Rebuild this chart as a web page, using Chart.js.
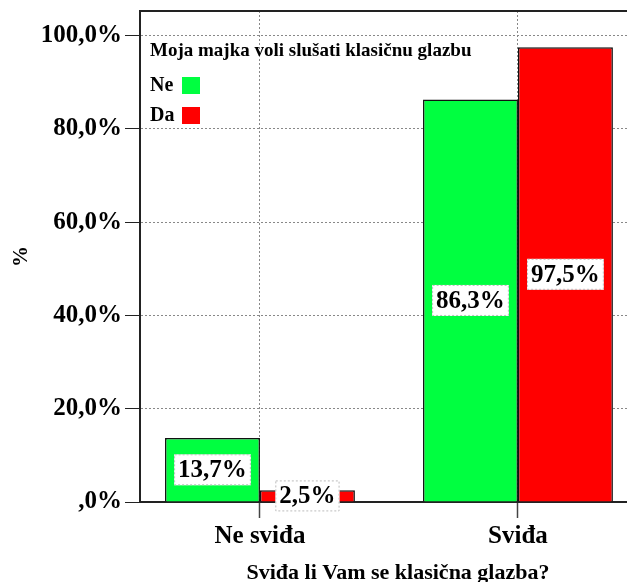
<!DOCTYPE html>
<html>
<head>
<meta charset="utf-8">
<script src="https://cdn.jsdelivr.net/npm/chart.js@4"></script>
<style>
  html, body { margin: 0; padding: 0; background: #fff; overflow: hidden; }
  #wrap { width: 670px; height: 587px; }
</style>
</head>
<body>
<div id="wrap"><canvas id="c" width="670" height="587"></canvas></div>
<script>
const categories = ['Ne sviđa', 'Sviđa'];
const seriesNames = ['Ne', 'Da'];
const valuesNe = [13.7, 86.3];
const valuesDa = [2.5, 97.5];
const yTicks = [0, 20, 40, 60, 80, 100];
const legendTitle = 'Moja majka voli slušati klasičnu glazbu';
const xTitle = 'Sviđa li Vam se klasična glazba?';
const yTitle = '%';

const FONT = '"Liberation Serif", "DejaVu Serif", serif';

function fmt(v) {
  if (v === 0) return ',0%';
  return v.toFixed(1).replace('.', ',') + '%';
}

// white boxes with the percentages, centred on each bar
const labelPlugin = {
  id: 'barLabels',
  afterDatasetsDraw(chart) {
    const ctx = chart.ctx;
    ctx.save();
    ctx.font = 'bold 25px ' + FONT;
    ctx.textAlign = 'center';
    ctx.textBaseline = 'middle';
    chart.data.datasets.forEach((ds, i) => {
      chart.getDatasetMeta(i).data.forEach((bar, j) => {
        const txt = fmt(ds.data[j].y);
        const cy = (bar.y + bar.base) / 2;
        const w = ctx.measureText(txt).width + 8;
        const h = 31;
        ctx.fillStyle = '#fff';
        ctx.fillRect(bar.x - w / 2, cy - h / 2, w, h);
        ctx.setLineDash([2, 2]);
        ctx.strokeStyle = '#bbb';
        ctx.lineWidth = 1;
        ctx.strokeRect(bar.x - w / 2 + 0.5, cy - h / 2 + 0.5, w - 1, h - 1);
        ctx.setLineDash([]);
        ctx.fillStyle = '#000';
        ctx.fillText(txt, bar.x, cy + 1);
      });
    });
    ctx.restore();
  }
};

// frame round the plot + legend inside it
const framePlugin = {
  id: 'frame',
  afterDraw(chart) {
    const ctx = chart.ctx;
    const a = chart.chartArea;
    ctx.save();
    ctx.strokeStyle = '#222';
    ctx.lineWidth = 2;
    ctx.beginPath();
    ctx.moveTo(a.left, a.top);
    ctx.lineTo(a.right, a.top);
    ctx.lineTo(a.right, a.bottom);
    ctx.stroke();

    ctx.fillStyle = '#000';
    ctx.textAlign = 'left';
    ctx.textBaseline = 'middle';
    ctx.font = 'bold 19px ' + FONT;
    ctx.fillText(legendTitle, a.left + 10, a.top + 40);
    ctx.font = 'bold 20px ' + FONT;
    chart.data.datasets.forEach((ds, i) => {
      const y = a.top + 75 + i * 30;
      ctx.fillStyle = '#000';
      ctx.fillText(ds.label, a.left + 10, y);
      ctx.fillStyle = ds.backgroundColor;
      ctx.fillRect(a.left + 42, y - 9, 18, 17);
    });
    ctx.restore();
  }
};

new Chart(document.getElementById('c'), {
  type: 'bar',
  data: {
    labels: categories,
    datasets: [
      { label: seriesNames[0], data: valuesNe.map((v, i) => ({ x: i, y: v })), backgroundColor: '#00ff40', borderColor: '#111', borderWidth: 1.5 },
      { label: seriesNames[1], data: valuesDa.map((v, i) => ({ x: i, y: v })), backgroundColor: '#ff0000', borderColor: '#111', borderWidth: 1.5 }
    ]
  },
  options: {
    responsive: false,
    animation: false,
    categoryPercentage: 0.736,
    barPercentage: 1.0,
    layout: { padding: { top: 11, right: 14, left: 0, bottom: 0 } },
    plugins: {
      legend: { display: false },
      tooltip: { enabled: false }
    },
    scales: {
      x: {
        type: 'linear',
        offset: false,
        min: -0.465,
        max: 1.535,
        afterBuildTicks(scale) { scale.ticks = categories.map((c, i) => ({ value: i })); },
        grid: {
          offset: false,
          drawTicks: true,
          color: '#888',
          lineWidth: 1,
          tickLength: 16,
          tickColor: '#444',
          tickWidth: 1.5
        },
        border: { color: '#222', width: 2, dash: [2, 2] },
        ticks: {
          color: '#000',
          padding: 4,
          font: { family: FONT, size: 25, weight: 'bold' },
          callback: v => categories[v]
        },
        title: {
          display: true,
          text: xTitle,
          color: '#000',
          font: { family: FONT, size: 22, weight: 'bold' },
          padding: { top: 21, bottom: 0 }
        },
        afterFit(scale) { scale.height = 85; scale.paddingLeft = 0; scale.paddingRight = 0; }
      },
      y: {
        min: 0,
        max: 105.25,
        afterBuildTicks(scale) { scale.ticks = yTicks.map(v => ({ value: v })); },
        grid: {
          color: '#888',
          lineWidth: 1,
          tickLength: 15,
          tickColor: '#222',
          tickWidth: 1
        },
        border: { color: '#222', width: 2, dash: [2, 2] },
        ticks: {
          color: '#000',
          padding: 3,
          font: { family: FONT, size: 25, weight: 'bold' },
          callback: v => fmt(v)
        },
        title: {
          display: true,
          text: yTitle,
          color: '#000',
          font: { family: FONT, size: 21, weight: 'bold' },
          padding: { top: 9, bottom: 0 }
        },
        afterFit(scale) { scale.width = 140; scale.paddingTop = 0; scale.paddingBottom = 0; }
      }
    }
  },
  plugins: [labelPlugin, framePlugin]
});
</script>
</body>
</html>
